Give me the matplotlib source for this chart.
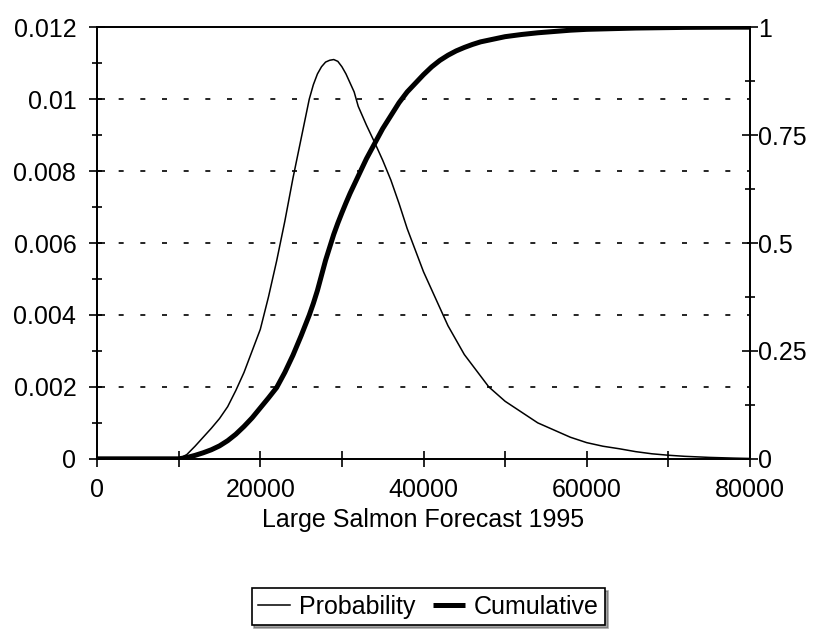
import matplotlib
matplotlib.use("Agg")
import matplotlib.pyplot as plt
from matplotlib.ticker import MultipleLocator

plt.rcParams['font.family'] = ['Liberation Sans', 'DejaVu Sans']

# Large salmon forecast, 1995
forecast = [0, 5000, 10000, 11000, 12000, 13000, 14000, 15000, 16000, 17000,
            18000, 19000, 20000, 21000, 22000, 23000, 24000, 25000, 26000, 26500,
            27000, 27500, 28000, 28500, 29000, 29500, 30000, 30500, 31000, 31500,
            32000, 33000, 34000, 35000, 36000, 37000, 38000, 39000, 40000, 41000,
            42000, 43000, 44000, 45000, 46000, 47000, 48000, 49000, 50000, 52000,
            54000, 56000, 58000, 60000, 62000, 64000, 66000, 68000, 70000, 72000,
            75000, 78000, 80000]

probability = [0, 0, 0, 0.00012, 0.00035, 0.0006, 0.00085, 0.00112, 0.00145, 0.0019,
               0.0024, 0.0030, 0.0036, 0.0045, 0.0055, 0.0066, 0.0078, 0.0089, 0.0100, 0.0104,
               0.0107, 0.0109, 0.01103, 0.01108, 0.0111, 0.01105, 0.0109, 0.0107, 0.01045, 0.0102,
               0.0098, 0.00928, 0.0088, 0.0083, 0.00775, 0.0071, 0.0064, 0.0058, 0.0052, 0.0047,
               0.0042, 0.0037, 0.0033, 0.0029, 0.0026, 0.0023, 0.0020, 0.0018, 0.0016, 0.0013,
               0.0010, 0.0008, 0.0006, 0.00045, 0.00035, 0.00028, 0.0002, 0.00014, 0.0001, 0.00007,
               0.00004, 0.00002, 0.00001]

cumulative = [0, 0, 0, 0.003, 0.008, 0.014, 0.021, 0.030, 0.042, 0.057,
              0.075, 0.095, 0.118, 0.141, 0.165, 0.200, 0.240, 0.285, 0.333, 0.360,
              0.390, 0.425, 0.460, 0.490, 0.520, 0.546, 0.570, 0.593, 0.615, 0.635,
              0.655, 0.695, 0.730, 0.765, 0.795, 0.825, 0.850, 0.870, 0.890, 0.908,
              0.923, 0.935, 0.945, 0.953, 0.960, 0.966, 0.970, 0.974, 0.978, 0.983,
              0.987, 0.990, 0.993, 0.995, 0.996, 0.997, 0.998, 0.9985, 0.999, 0.9995,
              0.9998, 1.0, 1.0]

left_ticks = [0, 0.002, 0.004, 0.006, 0.008, 0.01, 0.012]
left_labels = ["0", "0.002", "0.004", "0.006", "0.008", "0.01", "0.012"]
right_ticks = [0, 0.25, 0.5, 0.75, 1]
right_labels = ["0", "0.25", "0.5", "0.75", "1"]
x_ticks = [0, 20000, 40000, 60000, 80000]
x_labels = ["0", "20000", "40000", "60000", "80000"]

FS = 18

fig = plt.figure(figsize=(8.16, 6.32), dpi=100)
ax = fig.add_axes([0.119, 0.274, 0.800, 0.683])
ax2 = ax.twinx()

ax.set_xlim(0, 80000)
ax.set_ylim(0, 0.012)
ax2.set_ylim(0, 1)

# dashed horizontal gridlines on the left-axis major ticks
for v in left_ticks[1:-1]:
    ax.axhline(v, color="black", lw=1.2, linestyle=(0, (3, 10)), zorder=1)

l1, = ax.plot(forecast, probability, color="black", lw=1.1, zorder=3,
              label="Probability")
l2, = ax2.plot(forecast, cumulative, color="black", lw=3.6, zorder=3,
               solid_capstyle="butt", label="Cumulative")

for a in (ax, ax2):
    for s in a.spines.values():
        s.set_linewidth(1.3)
        s.set_color("black")

ax.set_yticks(left_ticks)
ax.set_yticklabels(left_labels, fontsize=FS)
ax.yaxis.set_minor_locator(MultipleLocator(0.001))
ax.set_xticks(x_ticks)
ax.set_xticklabels(x_labels, fontsize=FS)
ax.xaxis.set_minor_locator(MultipleLocator(10000))

ax2.set_yticks(right_ticks)
ax2.set_yticklabels(right_labels, fontsize=FS)
ax2.yaxis.set_minor_locator(MultipleLocator(0.125))

ax.tick_params(axis="y", which="major", direction="inout", length=12, width=1.2, pad=9)
ax.tick_params(axis="y", which="minor", direction="inout", length=7, width=1.2)
ax.tick_params(axis="x", which="both", direction="inout", length=12, width=1.2, pad=8)
ax2.tick_params(axis="y", which="major", direction="inout", length=12, width=1.2, pad=0)
ax2.tick_params(axis="y", which="minor", direction="inout", length=7, width=1.2)

ax.set_xlabel("Large Salmon Forecast 1995", fontsize=FS, labelpad=4)

leg = fig.legend(handles=[l1, l2], loc="center", bbox_to_anchor=(0.525, 0.040),
                 ncol=2, fontsize=FS, frameon=True, fancybox=False, shadow=True,
                 handlelength=1.3, handletextpad=0.35, columnspacing=0.7,
                 borderpad=0.25, borderaxespad=0)
leg.get_frame().set_edgecolor("black")
leg.get_frame().set_linewidth(1.2)

fig.savefig("out.png", dpi=100)
